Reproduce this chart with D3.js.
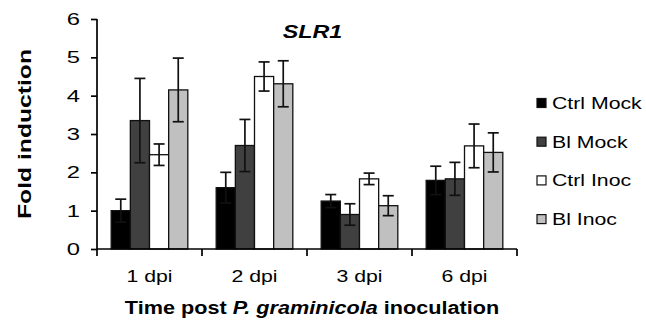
<!DOCTYPE html>
<html>
<head>
<meta charset="utf-8">
<script src="https://cdn.jsdelivr.net/npm/d3@7"></script>
<style>
  body { margin: 0; background: #fff; }
  text { font-family: "Liberation Sans", Arial, sans-serif; fill: #000; }
</style>
</head>
<body>
<svg id="chart" width="646" height="322"></svg>
<script>
var days = ['1 dpi', '2 dpi', '3 dpi', '6 dpi']
var seriesNames = ['Ctrl Mock', 'Bl Mock', 'Ctrl Inoc', 'Bl Inoc']
var seriesColors = ['#000000', '#404040', '#ffffff', '#c0c0c0']

var ctrlMock = [1.0, 1.6, 1.25, 1.79]
var ctrlMockErr = [0.3, 0.4, 0.17, 0.37]
var blMock = [3.35, 2.7, 0.9, 1.83]
var blMockErr = [1.1, 0.68, 0.28, 0.43]
var ctrlInoc = [2.46, 4.5, 1.83, 2.69]
var ctrlInocErr = [0.28, 0.38, 0.15, 0.57]
var blInoc = [4.15, 4.31, 1.13, 2.52]
var blInocErr = [0.83, 0.6, 0.26, 0.51]

var yTicks = [0, 1, 2, 3, 4, 5, 6]

var values = [ctrlMock, blMock, ctrlInoc, blInoc]
var errors = [ctrlMockErr, blMockErr, ctrlInocErr, blInocErr]

var sx = 1.25  // the picture is stretched sideways

var svg = d3.select('#chart')

var x0 = d3.scaleBand().domain(days).range([97, 517]).padding(0)
var x1 = d3.scaleBand().domain(seriesNames).range([0, x0.bandwidth()])
    .paddingInner(0).paddingOuter(0.74)
var y = d3.scaleLinear().domain([0, 6]).range([249, 19])

function label(g, x, yy, txt, opts) {
    var t = g.append('text')
        .attr('transform', 'translate(' + x + ',' + yy + ') scale(' + (opts.sx || sx) + ',1)')
        .attr('text-anchor', opts.anchor || 'start')
        .style('font-size', (opts.size || 17) + 'px')
    if (opts.bold) t.style('font-weight', 'bold')
    if (opts.italic) t.style('font-style', 'italic')
    t.text(txt)
    return t
}

// bars
var rows = []
days.forEach(function (d, i) {
    seriesNames.forEach(function (s, j) {
        rows.push({ day: d, name: s, j: j, v: values[j][i], e: errors[j][i] })
    })
})

var bars = svg.append('g')
bars.selectAll('rect')
    .data(rows)
    .enter()
    .append('rect')
    .attr('x', function (d) { return x0(d.day) + x1(d.name) })
    .attr('y', function (d) { return y(d.v) })
    .attr('width', x1.bandwidth())
    .attr('height', function (d) { return y(0) - y(d.v) })
    .style('fill', function (d) { return seriesColors[d.j] })
    .style('stroke', '#111')
    .style('stroke-width', 1.3)

// error bars
var errG = svg.append('g').style('stroke', '#111').style('stroke-width', 1.7)
rows.forEach(function (d) {
    var cx = x0(d.day) + x1(d.name) + x1.bandwidth() / 2
    errG.append('line').attr('x1', cx).attr('x2', cx)
        .attr('y1', y(d.v + d.e)).attr('y2', y(d.v - d.e))
    errG.append('line').attr('x1', cx - 5.5).attr('x2', cx + 5.5)
        .attr('y1', y(d.v + d.e)).attr('y2', y(d.v + d.e))
    errG.append('line').attr('x1', cx - 5.5).attr('x2', cx + 5.5)
        .attr('y1', y(d.v - d.e)).attr('y2', y(d.v - d.e))
})

// y axis
var yAxis = d3.axisLeft(y).tickValues(yTicks).tickSize(6).tickFormat('')
var yg = svg.append('g').attr('transform', 'translate(97,0)').call(yAxis)
yg.selectAll('path, line').style('stroke', '#000').style('stroke-width', 1.7)
yg.select('.domain').attr('d', 'M0,' + y(6) + 'V' + y(0))
yTicks.forEach(function (t) {
    label(svg, 80, y(t) + 6, String(t), { anchor: 'end', sx: 1.4 })
})

// x axis with ticks at category edges
var edges = days.map(function (d) { return x0(d) }).concat([x0.range()[1]])
var xg = svg.append('g').style('stroke', '#000').style('stroke-width', 1.7)
xg.append('line').attr('x1', 97).attr('x2', 517).attr('y1', y(0)).attr('y2', y(0))
edges.forEach(function (ex) {
    xg.append('line').attr('x1', ex).attr('x2', ex).attr('y1', y(0)).attr('y2', y(0) + 7)
})
days.forEach(function (d) {
    label(svg, x0(d) + x0.bandwidth() / 2, 282, d, { anchor: 'middle' })
})

// titles
label(svg, 312.5, 38, 'SLR1', { anchor: 'middle', bold: true, italic: true, size: 18.5, sx: 1.26 })

var xt = svg.append('text')
    .attr('transform', 'translate(312,314) scale(1.17,1)')
    .attr('text-anchor', 'middle')
    .style('font-size', '18.5px')
    .style('font-weight', 'bold')
xt.append('tspan').text('Time post ')
xt.append('tspan').style('font-style', 'italic').text('P. graminicola')
xt.append('tspan').text(' inoculation')

svg.append('text')
    .attr('transform', 'translate(31,134) rotate(-90) scale(1.3,1)')
    .attr('text-anchor', 'middle')
    .style('font-size', '19px')
    .style('font-weight', 'bold')
    .text('Fold induction')

// legend
var legend = svg.append('g')
seriesNames.forEach(function (s, j) {
    var cy = 103 + j * 38.7
    legend.append('rect')
        .attr('x', 537).attr('y', cy - 4.5)
        .attr('width', 9).attr('height', 9)
        .style('fill', seriesColors[j])
        .style('stroke', '#111').style('stroke-width', 1.2)
    label(legend, 552, cy + 6, s, {})
})
</script>
</body>
</html>
